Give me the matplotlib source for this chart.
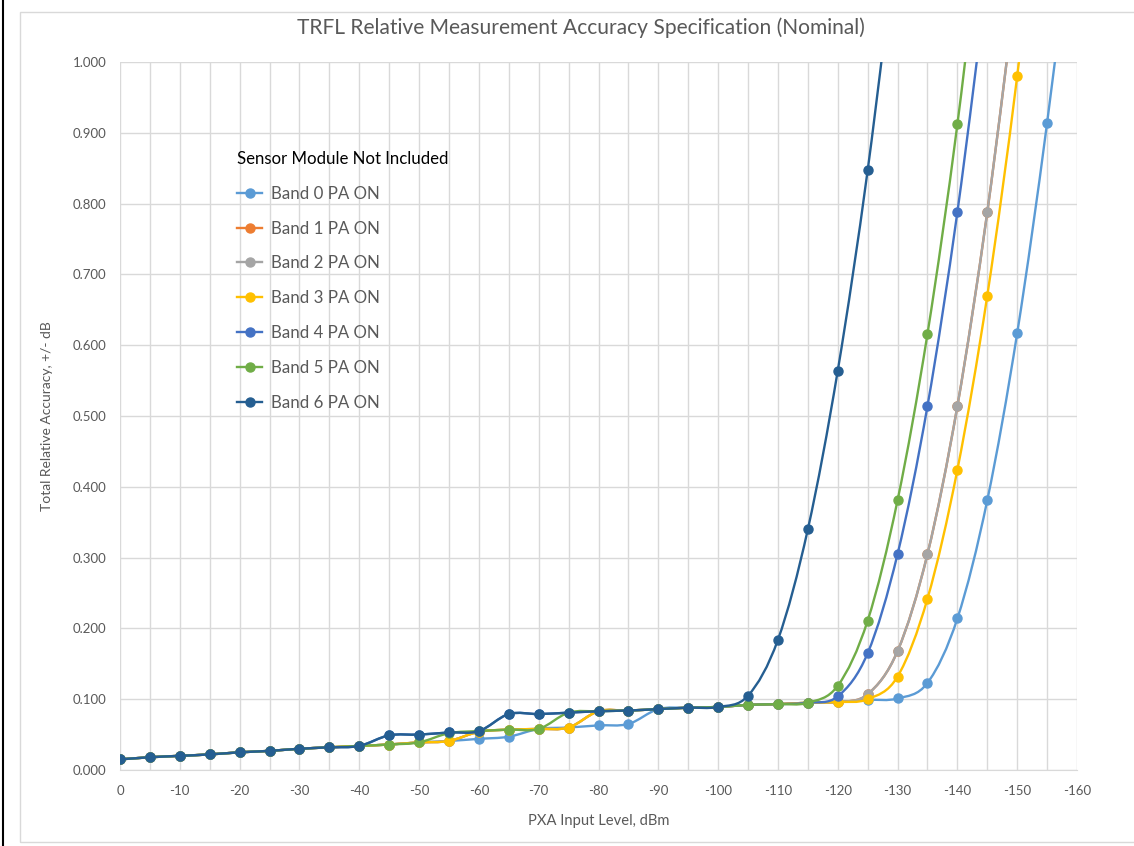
import matplotlib
matplotlib.use("Agg")
import matplotlib.pyplot as plt
from matplotlib.path import Path
from matplotlib.patches import PathPatch, Rectangle
from matplotlib.lines import Line2D

plt.rcParams['font.family'] = ['Lato', 'DejaVu Sans']

# input levels (dBm), one point every 5 dB
levels = [0, -5, -10, -15, -20, -25, -30, -35, -40, -45, -50, -55, -60, -65, -70,
          -75, -80, -85, -90, -95, -100, -105, -110, -115, -120, -125, -130, -135,
          -140, -145, -150, -155, -160]

# shared low-level part, 0 .. -40 dBm
base = [0.015, 0.018, 0.020, 0.022, 0.025, 0.027, 0.030, 0.032, 0.034]

band0 = base + [0.036, 0.039, 0.041, 0.044, 0.047, 0.058, 0.060, 0.063, 0.065,
                0.086, 0.088, 0.089, 0.092, 0.093, 0.095, 0.096, 0.099, 0.101,
                0.123, 0.214, 0.381, 0.617, 0.914, 1.26]
band2 = base + [0.036, 0.039, 0.041, 0.054, 0.057, 0.058, 0.060, 0.083, 0.084,
                0.086, 0.088, 0.089, 0.092, 0.093, 0.095, 0.096, 0.107, 0.168,
                0.305, 0.514, 0.788, 1.12]
band1 = list(band2)
band3 = base + [0.036, 0.039, 0.041, 0.054, 0.057, 0.058, 0.060, 0.083, 0.084,
                0.086, 0.088, 0.089, 0.092, 0.093, 0.095, 0.096, 0.100, 0.132,
                0.242, 0.424, 0.670, 0.980, 1.35]
band4 = base + [0.049, 0.050, 0.053, 0.055, 0.079, 0.079, 0.081, 0.083, 0.084,
                0.086, 0.088, 0.089, 0.092, 0.093, 0.095, 0.104, 0.165, 0.305,
                0.514, 0.788, 1.12]
band5 = base + [0.036, 0.039, 0.052, 0.055, 0.057, 0.058, 0.081, 0.083, 0.084,
                0.086, 0.088, 0.089, 0.092, 0.093, 0.095, 0.119, 0.211, 0.381,
                0.616, 0.912, 1.27]
band6 = base + [0.049, 0.050, 0.053, 0.055, 0.079, 0.079, 0.081, 0.083, 0.084,
                0.086, 0.088, 0.089, 0.105, 0.184, 0.340, 0.564, 0.847, 1.19]

series = [band0, band1, band2, band3, band4, band5, band6]
names = ['Band 0 PA ON', 'Band 1 PA ON', 'Band 2 PA ON', 'Band 3 PA ON',
         'Band 4 PA ON', 'Band 5 PA ON', 'Band 6 PA ON']
colors = ['#5B9BD5', '#ED7D31', '#A5A5A5', '#FFC000', '#4472C4', '#70AD47', '#255E91']

x_major = [0, -10, -20, -30, -40, -50, -60, -70, -80, -90, -100, -110, -120,
           -130, -140, -150, -160]
y_major = [0.0, 0.1, 0.2, 0.3, 0.4, 0.5, 0.6, 0.7, 0.8, 0.9, 1.0]

grid_c = '#d9d9d9'
text_c = '#595959'


def smooth_path(x, y):
    # excel-like smoothed line: bezier segments, catmull-rom control points
    n = len(x)
    verts = [(x[0], y[0])]
    codes = [Path.MOVETO]
    for i in range(n - 1):
        a = max(i - 1, 0)
        b = min(i + 2, n - 1)
        c1 = (x[i] + (x[i + 1] - x[a]) / 6, y[i] + (y[i + 1] - y[a]) / 6)
        c2 = (x[i + 1] - (x[b] - x[i]) / 6, y[i + 1] - (y[b] - y[i]) / 6)
        verts += [c1, c2, (x[i + 1], y[i + 1])]
        codes += [Path.CURVE4] * 3
    return Path(verts, codes)


fig = plt.figure(figsize=(11.34, 8.46), dpi=100)
ax = fig.add_axes([120 / 1134, 1 - 770 / 846, 957 / 1134, 708 / 846])

handles = []
for k, (vals, name, col) in enumerate(zip(series, names, colors)):
    xs = levels[:len(vals)]
    ax.add_patch(PathPatch(smooth_path(xs, vals), facecolor='none', edgecolor=col,
                           lw=1.7, zorder=3 + k))
    ax.plot(xs, vals, linestyle='none', marker='o', ms=6.5, color=col, zorder=3 + k)
    handles.append(Line2D([], [], color=col, lw=1.7, marker='o', ms=6.5, label=name))

ax.set_xlim(0, -160)
ax.set_ylim(0, 1.0)
ax.set_xticks(x_major)
ax.set_xticklabels([str(v) for v in x_major])
ax.set_xticks([v - 5 for v in x_major[:-1]], minor=True)
ax.set_yticks(y_major)
ax.set_yticklabels(['%.3f' % v for v in y_major])
ax.grid(True, which='both', color=grid_c, lw=1.0, zorder=0)
ax.tick_params(which='both', length=0, colors=text_c, labelsize=9.5)
ax.tick_params(axis='x', pad=11)
ax.tick_params(axis='y', pad=10)
for s in ['left', 'right', 'top']:
    ax.spines[s].set_visible(False)
ax.spines['bottom'].set_color(grid_c)
ax.set_axisbelow(True)

ax.set_xlabel('PXA Input Level, dBm', color=text_c, fontsize=10.6, labelpad=12)
ax.set_ylabel('Total Relative Accuracy, +/- dB', color=text_c, fontsize=10, labelpad=14)

fig.text(581 / 1134, 1 - 28 / 846, 'TRFL Relative Measurement Accuracy Specification (Nominal)',
         ha='center', va='center', fontsize=15.1, color=text_c)

leg = ax.legend(handles=handles, loc='upper left',
                bbox_to_anchor=(237 / 1134, 1 - 151 / 846), bbox_transform=fig.transFigure,
                frameon=False, fontsize=12.2, title='Sensor Module Not Included',
                title_fontproperties={'size': 12.1}, alignment='left',
                handlelength=1.5, handletextpad=0.5, labelspacing=1.11,
                borderpad=0, borderaxespad=0)
for t in leg.get_texts():
    t.set_color(text_c)
leg.get_title().set_color('black')

# chart area border and left frame line
fig.patches.append(Rectangle((20 / 1134, 1 - 842 / 846), 1.2, 830 / 846,
                             transform=fig.transFigure, fill=False,
                             edgecolor=grid_c, lw=1.0))
fig.add_artist(Line2D([2.5 / 1134, 2.5 / 1134], [0, 1], transform=fig.transFigure,
                      color='black', lw=1.5))

fig.savefig('out.png', dpi=100)
